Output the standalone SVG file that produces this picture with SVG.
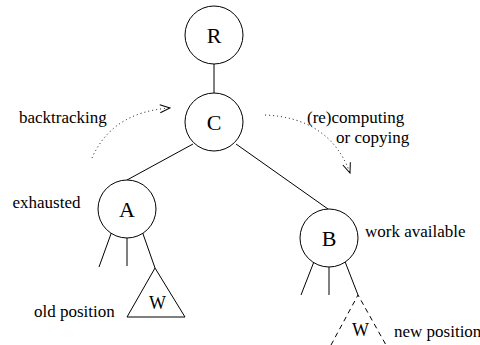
<svg xmlns="http://www.w3.org/2000/svg" width="480" height="345" viewBox="0 0 480 345" font-family="'Liberation Serif', 'DejaVu Serif', 'Times New Roman', serif">
<style>
.node{fill:#fff;stroke:#000;stroke-width:1}
.lbl{font-family:'Liberation Serif','DejaVu Serif',serif;font-size:22px;fill:#000;text-anchor:middle}
.txt{font-family:'Liberation Serif','DejaVu Serif',serif;font-size:17px;fill:#000}
.edge{stroke:#000;stroke-width:1;fill:none}
.dash{stroke:#000;stroke-width:1;fill:none;stroke-dasharray:5 4}
.dot{stroke:#000;stroke-width:1;fill:none;stroke-dasharray:1 3}
</style>
<defs>
<marker id="open" viewBox="0 0 12 10" refX="11" refY="5" markerWidth="12" markerHeight="10" markerUnits="userSpaceOnUse" orient="auto">
<polyline points="1,1 11,5 1,9" fill="none" stroke="#000" stroke-width="1"/>
</marker>
</defs>
<g id="connectors">
<line class="edge" x1="214" y1="64" x2="214" y2="93"/>
<line class="edge" x1="193" y1="144" x2="127" y2="180"/>
<line class="edge" x1="236" y1="144" x2="328" y2="209"/>
<line class="edge" x1="112" y1="231" x2="99" y2="267"/>
<line class="edge" x1="127" y1="238" x2="127" y2="266"/>
<line class="edge" x1="142" y1="231" x2="155" y2="268"/>
<line class="edge" x1="315" y1="259" x2="301" y2="295"/>
<line class="edge" x1="329" y1="267" x2="329" y2="295"/>
<line class="edge" x1="344" y1="259" x2="358" y2="295"/>
<path class="dot" d="M92,158 Q112,112 170,108" marker-end="url(#open)"/>
<path class="dot" d="M265,115 Q330,118 350,173" marker-end="url(#open)"/>
</g>
<g id="R"><circle class="node" cx="214" cy="35" r="29"/><text class="lbl" x="214" y="43">R</text></g>
<g id="C"><circle class="node" cx="214" cy="122" r="29"/><text class="lbl" x="214" y="130">C</text></g>
<g id="A"><circle class="node" cx="127" cy="209" r="29"/><text class="lbl" x="127" y="217">A</text></g>
<g id="B"><circle class="node" cx="329" cy="238" r="29"/><text class="lbl" x="329" y="246">B</text></g>
<g id="W-old"><polygon class="edge" points="155,268 127,317 185,317"/><text class="txt" x="157.5" y="309" text-anchor="middle" style="font-size:18px">W</text></g>
<g id="W-new"><polyline class="dash" points="331,345 358,295 386,345"/><text class="txt" x="360.5" y="336" text-anchor="middle" style="font-size:18px">W</text></g>
<g id="labels">
<text class="txt" x="19" y="123">backtracking</text>
<text class="txt" x="307" y="123">(re)computing</text>
<text class="txt" x="336" y="143">or copying</text>
<text class="txt" x="12.5" y="208">exhausted</text>
<text class="txt" x="365" y="237">work available</text>
<text class="txt" x="34" y="317">old position</text>
<text class="txt" x="394" y="337">new position</text>
</g>
</svg>
